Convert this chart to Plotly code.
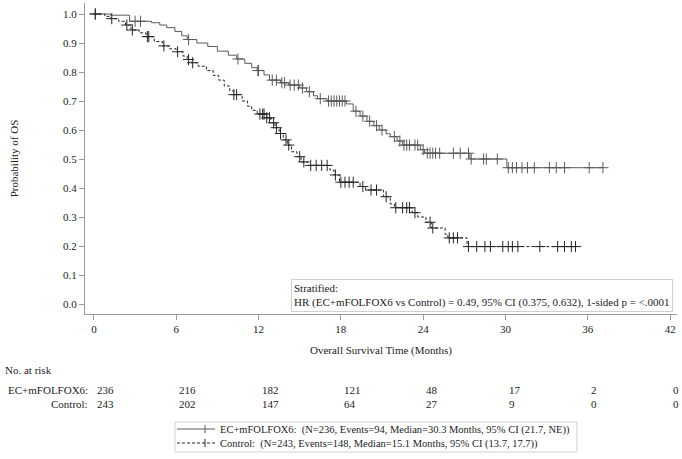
import numpy as np
import plotly.graph_objects as go

# EC+mFOLFOX6 arm: event times (months) and KM survival after each event
ec_time = [0, 1.2, 2.6, 4.2, 4.8, 5.3, 5.9, 6.4, 6.8, 7.5, 8.3, 9.0, 9.8, 10.4, 11.0, 11.5, 11.9,
           12.4, 12.8, 13.6, 14.2, 15.0, 15.5, 16.0, 16.3, 17.0, 18.4, 18.9, 19.4, 19.9, 20.4,
           20.8, 21.3, 21.6, 22.1, 22.5, 23.8, 24.1, 27.4, 30.1]
ec_surv = [1.0, 0.996, 0.975, 0.970, 0.962, 0.953, 0.940, 0.925, 0.912, 0.900, 0.888, 0.872,
           0.858, 0.845, 0.830, 0.815, 0.805, 0.790, 0.772, 0.763, 0.755, 0.745, 0.732, 0.718,
           0.708, 0.700, 0.690, 0.665, 0.648, 0.630, 0.615, 0.600, 0.587, 0.577, 0.562, 0.548,
           0.532, 0.520, 0.500, 0.470]
ec_end = 37.1
ec_cens = [0.1, 3.0, 3.4, 6.9, 10.5, 11.95, 12.0, 13.0, 13.3, 13.7, 13.9, 14.3, 14.6, 14.9, 15.2,
           15.7, 16.5, 17.1, 17.3, 17.5, 17.7, 17.9, 18.1, 18.3, 19.1, 19.6, 20.1, 20.6, 21.0,
           21.9, 22.3, 22.6, 22.8, 23.0, 23.4, 23.6, 24.0, 24.3, 24.5, 24.7, 24.9, 25.2, 26.2,
           26.7, 27.3, 27.5, 28.4, 28.6, 29.4, 30.2, 30.5, 30.8, 31.2, 31.6, 32.1, 33.2, 33.7,
           34.3, 36.1, 37.1]

# Control arm
ct_time = [0, 0.8, 1.2, 1.8, 2.3, 2.7, 3.3, 3.8, 4.4, 5.0, 5.5, 6.0, 6.5, 6.8, 7.1, 7.6, 8.2,
           8.7, 9.1, 9.5, 9.9, 10.2, 10.8, 11.2, 11.5, 11.9, 12.6, 12.9, 13.2, 13.5, 13.8, 14.1,
           14.4, 14.8, 15.1, 15.6, 17.2, 17.5, 17.9, 19.4, 19.8, 21.1, 21.6, 21.9, 23.2, 23.6,
           24.2, 24.6, 25.6, 25.8, 27.2]
ct_surv = [1.0, 0.992, 0.984, 0.975, 0.962, 0.945, 0.935, 0.922, 0.905, 0.890, 0.880, 0.870,
           0.855, 0.843, 0.832, 0.820, 0.805, 0.788, 0.772, 0.752, 0.735, 0.722, 0.700, 0.682,
           0.668, 0.655, 0.642, 0.625, 0.608, 0.588, 0.566, 0.548, 0.525, 0.508, 0.490, 0.478,
           0.462, 0.445, 0.420, 0.405, 0.393, 0.370, 0.345, 0.332, 0.315, 0.300, 0.282, 0.262,
           0.240, 0.228, 0.198]
ct_end = 35.1
ct_cens = [0.1, 1.3, 2.4, 2.8, 3.9, 4.0, 5.1, 6.1, 6.9, 7.2, 10.2, 10.4, 12.1, 12.3, 12.4, 12.6,
           12.8, 13.1, 13.3, 13.6, 14.0, 14.2, 15.0, 15.3, 15.8, 16.2, 16.6, 17.0, 17.6, 18.0,
           18.3, 18.6, 18.9, 19.6, 20.2, 20.6, 21.3, 22.0, 22.5, 22.8, 23.0, 23.4, 24.5, 24.7,
           25.9, 26.2, 26.5, 27.3, 27.9, 28.5, 28.9, 29.8, 30.2, 30.5, 30.9, 32.5, 33.8, 34.3,
           34.8, 35.1]

risk_times = [0, 6, 12, 18, 24, 30, 36, 42]
ec_risk = [236, 216, 182, 121, 48, 17, 2, 0]
ct_risk = [243, 202, 147, 64, 27, 9, 0, 0]

ec_label = "EC+mFOLFOX6:  (N=236, Events=94, Median=30.3 Months, 95% CI (21.7, NE))"
ct_label = "Control:  (N=243, Events=148, Median=15.1 Months, 95% CI (13.7, 17.7))"
hr_text = ("Stratified:<br>HR (EC+mFOLFOX6 vs Control) = 0.49, 95% CI (0.375, 0.632), "
           "1-sided p = <.0001")

FONT = "Liberation Serif, Times New Roman, Times, serif"
TXT = "#222"
EC_COL = "#5a5a5a"
CT_COL = "#262626"
BOX = "#d0d0d0"


def step_at(times, surv, t):
    i = np.searchsorted(times, t, side="right") - 1
    return [surv[k] for k in i]


fig = go.Figure()

arms = [
    (ec_time, ec_surv, ec_end, ec_cens, EC_COL, "solid", ec_label),
    (ct_time, ct_surv, ct_end, ct_cens, CT_COL, "3px,2px", ct_label),
]
for times, surv, end, cens, col, dash, lab in arms:
    fig.add_trace(go.Scatter(x=times + [end], y=surv + [surv[-1]], mode="lines", name=lab,
                             line=dict(color=col, width=1, dash=dash, shape="hv"),
                             showlegend=False, hoverinfo="skip"))
    fig.add_trace(go.Scatter(x=cens, y=step_at(times, surv, cens), mode="markers",
                             marker=dict(symbol="cross-thin", size=8,
                                         line=dict(color=col, width=1)),
                             showlegend=False))

fig.add_annotation(xref="paper", yref="paper", x=0.993, y=0.006, xanchor="right",
                   yanchor="bottom", align="left", text=hr_text, showarrow=False,
                   bordercolor=BOX, borderwidth=1, borderpad=2, bgcolor="white",
                   font=dict(family=FONT, size=11, color=TXT))

# number at risk table
fig.add_annotation(xref="paper", yref="paper", x=-0.139, y=-0.18, xanchor="left",
                   yanchor="middle", text="No. at risk", showarrow=False,
                   font=dict(family=FONT, size=11, color=TXT))
for row, (lab, vals) in enumerate([("EC+mFOLFOX6:", ec_risk), ("Control:", ct_risk)]):
    yy = -0.244 - row * 0.045
    fig.add_annotation(xref="paper", yref="paper", x=0.008, y=yy, xanchor="right",
                       yanchor="middle", text=lab, showarrow=False,
                       font=dict(family=FONT, size=11, color=TXT))
    for t, v in zip(risk_times, vals):
        fig.add_annotation(xref="x", yref="paper", x=t, y=yy, xanchor="left",
                           yanchor="middle", text=str(v), showarrow=False, xshift=1,
                           font=dict(family=FONT, size=11, color=TXT))

# legend box below the table (drawn by hand so it stays as compact as the original)
fig.add_shape(type="rect", xref="paper", yref="paper", x0=0.152, x1=0.831,
              y0=-0.4437, y1=-0.3473, line=dict(color=BOX, width=1))
fig.add_annotation(xref="paper", yref="paper", x=0.2245, y=-0.3955, xanchor="left",
                   yanchor="middle", align="left", showarrow=False,
                   text=ec_label + "<br>" + ct_label,
                   font=dict(family=FONT, size=10.5, color=TXT))
for k, (_, _, _, _, col, dash, _) in enumerate(arms):
    ly = -0.3698 - k * 0.045
    fig.add_shape(type="line", xref="paper", yref="paper", x0=0.1554, x1=0.2196,
                  y0=ly, y1=ly, line=dict(color=col, width=1, dash=dash))
    fig.add_shape(type="line", xref="paper", yref="paper", x0=0.2027, x1=0.2027,
                  y0=ly - 0.013, y1=ly + 0.013, line=dict(color=col, width=1))

axis_common = dict(showline=True, linecolor="#9a9a9a", linewidth=1, ticks="outside",
                   ticklen=5, tickcolor="#9a9a9a", showgrid=False, zeroline=False,
                   automargin=False, tickfont=dict(family=FONT, size=11, color=TXT))

fig.update_xaxes(range=[-0.65, 42.5], tickvals=risk_times,
                 title=dict(text="Overall Survival Time (Months)", standoff=12,
                            font=dict(family=FONT, size=11, color=TXT)),
                 **axis_common)
fig.update_yaxes(range=[-0.0345, 1.038], tickvals=[i / 10 for i in range(11)],
                 tickformat=".1f",
                 title=dict(text="Probability of OS", standoff=42,
                            font=dict(family=FONT, size=11, color=TXT)),
                 **axis_common)

fig.update_layout(width=682, height=459, template="none", showlegend=False,
                  paper_bgcolor="white", plot_bgcolor="white",
                  margin=dict(l=85, r=5, t=3, b=145),
                  font=dict(family=FONT, size=11, color=TXT))

fig.write_html("out.html", config={"displayModeBar": False},
               post_script="document.body.style.margin='0';")
